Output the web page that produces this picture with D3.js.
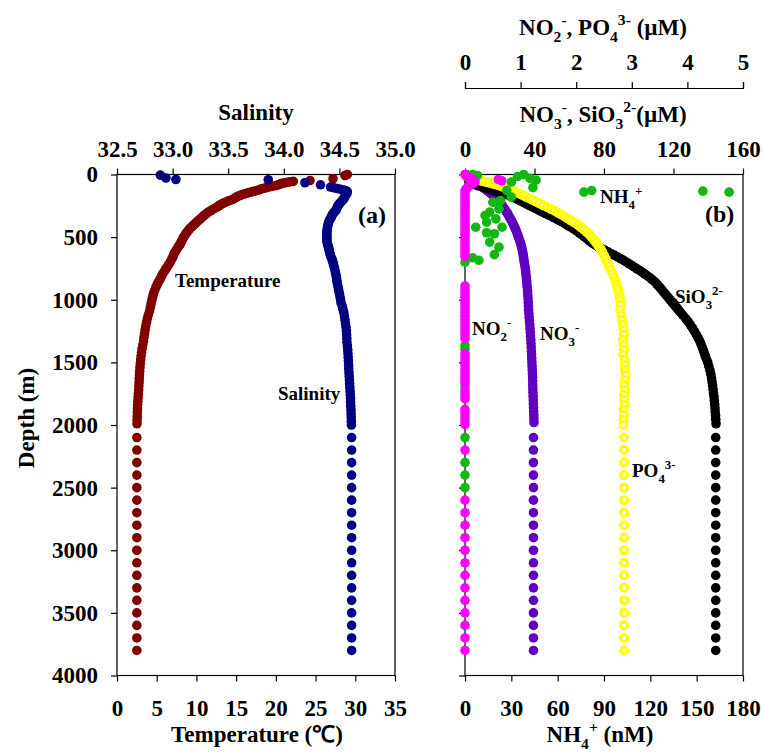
<!DOCTYPE html>
<html><head><meta charset="utf-8">
<script src="https://cdn.jsdelivr.net/npm/d3@7"></script>
<style>
body{margin:0;background:#fff}
svg{display:block}
text{font-family:'Liberation Serif','Times New Roman',serif;font-weight:bold;fill:#000}
</style></head><body>
<svg id="c" width="764" height="756"></svg>
<script>
// ---------------- DATA ----------------
const depthTicks = [0,500,1000,1500,2000,2500,3000,3500,4000];
const tempTicks = [0,5,10,15,20,25,30,35];
const salTicks = [32.5,33.0,33.5,34.0,34.5,35.0];
const nTicks = [0,40,80,120,160];
const pTicks = [0,1,2,3,4,5];
const nh4Ticks = [0,30,60,90,120,150,180];

// [depth (m), temperature (°C)]
const temperature = [[0,29.0],[8,28.7],[34,27.2],[48,24.3],[55,22.2],[59,21.8],[63,21.4],[67,21.1],[71,20.8],[75,20.6],[80,20.4],[85,20.2],[90,19.9],[95,19.5],[100,19.1],[105,18.8],[110,18.5],[115,18.2],[120,18.0],[125,17.8],[130,17.5],[135,17.2],[140,16.9],[145,16.6],[150,16.3],[155,16.1],[160,15.8],[165,15.6],[170,15.4],[175,15.2],[182,15.0],[190,14.8],[198,14.6],[205,14.3],[212,14.0],[220,13.7],[228,13.4],[236,13.2],[244,12.9],[252,12.8],[261,12.6],[270,12.3],[280,12.0],[290,11.8],[300,11.5],[310,11.3],[320,11.1],[330,10.9],[342,10.7],[354,10.5],[365,10.3],[376,10.1],[388,9.9],[400,9.7],[412,9.5],[424,9.3],[436,9.1],[448,9.0],[461,8.8],[475,8.65],[490,8.5],[505,8.35],[520,8.25],[536,8.1],[553,8.0],[568,7.8],[584,7.65],[600,7.5],[616,7.35],[632,7.2],[648,7.1],[664,7.0],[680,6.85],[700,6.7],[720,6.5],[740,6.3],[760,6.1],[780,5.9],[800,5.7],[820,5.55],[840,5.4],[860,5.2],[880,5.05],[900,4.9],[925,4.75],[950,4.6],[975,4.5],[1000,4.4],[1030,4.3],[1060,4.2],[1090,4.1],[1120,3.95],[1150,3.82],[1180,3.72],[1210,3.62],[1240,3.54],[1270,3.47],[1300,3.4],[1330,3.34],[1360,3.25],[1390,3.16],[1420,3.09],[1450,3.03],[1480,2.98],[1510,2.93],[1540,2.89],[1570,2.86],[1600,2.83],[1630,2.8],[1660,2.78],[1690,2.75],[1720,2.73],[1750,2.69],[1780,2.66],[1810,2.63],[1840,2.6],[1870,2.58],[1900,2.56],[1930,2.55],[1960,2.53],[1990,2.52],
[2100,2.5],[2200,2.5],[2300,2.5],[2400,2.5],[2500,2.5],[2600,2.5],[2700,2.5],[2800,2.5],[2900,2.5],[3000,2.5],[3100,2.5],[3200,2.5],[3300,2.5],[3400,2.5],[3500,2.5],[3600,2.5],[3700,2.5],[3800,2.5]];

// [depth (m), salinity]
const salinity = [[5,32.89],[28,32.94],[40,33.03],[42,33.86],[66,34.19],[82,34.33],[100,34.42],[106,34.45],[112,34.48],[118,34.51],[124,34.54],[130,34.56],[137,34.57],[145,34.57],[153,34.565],[162,34.56],[172,34.55],[183,34.545],[194,34.54],[204,34.53],[214,34.52],[224,34.51],[234,34.5],[244,34.49],[254,34.485],[264,34.48],[274,34.475],[284,34.47],[294,34.46],[304,34.45],[314,34.44],[324,34.435],[334,34.43],[344,34.425],[354,34.418],[366,34.41],[380,34.405],[395,34.4],[410,34.395],[425,34.392],[440,34.39],[455,34.388],[470,34.387],[485,34.387],[500,34.387],[515,34.388],[530,34.388],[545,34.39],[560,34.395],[575,34.4],[590,34.405],[605,34.408],[620,34.412],[635,34.416],[650,34.42],[665,34.428],[680,34.435],[695,34.44],[710,34.445],[727,34.449],[745,34.455],[765,34.46],[785,34.465],[805,34.47],[825,34.474],[845,34.477],[865,34.48],[885,34.485],[905,34.49],[926,34.494],[950,34.5],[975,34.505],[1000,34.51],[1025,34.515],[1050,34.525],[1075,34.532],[1100,34.539],[1130,34.545],[1160,34.55],[1190,34.555],[1220,34.56],[1250,34.563],[1280,34.565],[1310,34.567],[1340,34.568],[1370,34.572],[1400,34.575],[1430,34.577],[1460,34.579],[1490,34.581],[1520,34.583],[1550,34.584],[1580,34.586],[1610,34.588],[1640,34.59],[1670,34.592],[1700,34.594],[1730,34.596],[1760,34.598],[1790,34.6],[1820,34.601],[1850,34.602],[1880,34.604],[1910,34.605],[1940,34.606],[1970,34.607],[2000,34.608],
[2100,34.61],[2200,34.61],[2300,34.61],[2400,34.61],[2500,34.61],[2600,34.61],[2700,34.61],[2800,34.61],[2900,34.61],[3000,34.61],[3100,34.61],[3200,34.61],[3300,34.61],[3400,34.61],[3500,34.61],[3600,34.61],[3700,34.61],[3800,34.61]];

// [depth (m), NO3- (µM)]
const nitrate = [[0,0.5],[10,1],[20,1.5],[30,2.2],[40,3],[50,4],[60,5],[70,6],[80,7.5],[90,9],[100,10],[110,11],[120,12],[130,13],[140,14],[150,14.8],[160,15.6],[170,16.4],[180,17.2],[190,17.9],[200,18.6],[215,19.6],[230,20.5],[245,21.3],[260,22.1],[275,22.8],[290,23.5],[305,24.2],[320,24.8],[335,25.4],[350,26],[365,26.6],[380,27.2],[395,27.7],[410,28.2],[425,28.7],[440,29.2],[455,29.6],[470,30],[485,30.4],[500,30.8],[520,31.3],[540,31.8],[560,32.2],[580,32.6],[600,32.9],[620,33.2],[640,33.5],[660,33.7],[680,33.9],[700,34.1],[725,34.4],[750,34.7],[775,34.9],[800,35.1],[825,35.3],[850,35.5],[875,35.6],[900,35.8],[930,36],[960,36.1],[990,36.3],[1020,36.4],[1050,36.5],[1080,36.6],[1110,36.8],[1140,36.9],[1170,37.1],[1200,37.3],[1230,37.4],[1260,37.6],[1290,37.7],[1320,37.9],[1350,38],[1380,38.1],[1410,38.2],[1440,38.3],[1470,38.4],[1500,38.5],[1530,38.6],[1560,38.7],[1590,38.8],[1620,38.9],[1650,38.95],[1680,39],[1710,39.05],[1740,39.1],[1770,39.2],[1800,39.3],[1830,39.35],[1860,39.45],[1890,39.5],[1920,39.6],[1950,39.65],[1980,39.7],
[2100,39.4],[2200,39.4],[2300,39.4],[2400,39.4],[2500,39.4],[2600,39.4],[2700,39.4],[2800,39.4],[2900,39.4],[3000,39.4],[3100,39.4],[3200,39.4],[3300,39.4],[3400,39.4],[3500,39.4],[3600,39.4],[3700,39.4],[3800,39.4]];

// [depth (m), SiO3 2- (µM)]
const silicate = [[0,0.5],[10,1],[20,1.5],[30,1.8],[40,2.2],[50,2.6],[60,3],[70,3.8],[80,5],[90,7.5],[100,10],[108,12],[116,14],[124,15.5],[132,16.8],[140,18.5],[150,21],[160,23.5],[170,25.9],[180,27.5],[190,29],[200,30.5],[212,32.1],[224,33.8],[237,35.5],[248,37.1],[259,38.7],[270,40.3],[281,41.9],[292,43.4],[303,45],[314,46.6],[325,48.2],[335,49.8],[347,51.4],[358,53],[370,54.7],[383,56.3],[396,57.9],[410,59.5],[423,61.1],[436,62.7],[450,64.3],[465,65.7],[480,67.1],[495,68.5],[510,69.9],[527,71.4],[543,72.8],[556,74.2],[568,75.6],[580,77],[593,78.8],[606,80.6],[620,82.5],[633,84.3],[646,86.1],[660,88],[673,89.7],[686,91.3],[700,93],[713,94.5],[726,96],[740,97.5],[753,99],[766,100.5],[780,102],[793,103.3],[806,104.6],[820,106],[833,107.2],[846,108.3],[860,109.5],[873,110.3],[886,111.1],[900,112],[916,113],[933,114],[950,115],[966,116],[983,117],[1000,118],[1016,119],[1033,120],[1050,121],[1066,122],[1083,123],[1100,124],[1125,125.5],[1150,127],[1175,128.4],[1200,129.7],[1225,130.9],[1250,132],[1275,133],[1300,134],[1325,134.9],[1350,135.7],[1378,136.5],[1405,137.2],[1430,137.8],[1455,138.4],[1480,139.1],[1500,139.7],[1530,140.3],[1565,141],[1595,141.5],[1625,141.9],[1655,142.2],[1685,142.5],[1715,142.8],[1745,143],[1775,143.3],[1805,143.5],[1835,143.7],[1865,143.9],[1895,144],[1925,144.2],[1955,144.3],[1990,144.5],
[2100,144.3],[2200,144.3],[2300,144.3],[2400,144.3],[2500,144.3],[2600,144.3],[2700,144.3],[2800,144.3],[2900,144.3],[3000,144.3],[3100,144.3],[3200,144.3],[3300,144.3],[3400,144.3],[3500,144.3],[3600,144.3],[3700,144.3],[3800,144.3]];

// [depth (m), PO4 3- (µM)]
const phosphate = [[0,0],[8,0.02],[20,0.05],[35,0.12],[45,0.22],[52,0.3],[58,0.36],[64,0.42],[70,0.47],[76,0.52],[82,0.57],[88,0.61],[95,0.66],[102,0.71],[110,0.76],[118,0.79],[126,0.84],[135,0.89],[145,0.94],[155,0.99],[166,1.04],[177,1.09],[190,1.15],[203,1.21],[216,1.27],[230,1.33],[245,1.4],[260,1.47],[275,1.54],[290,1.61],[305,1.67],[320,1.73],[336,1.79],[352,1.85],[368,1.91],[385,1.97],[402,2.03],[420,2.08],[440,2.14],[460,2.19],[480,2.24],[500,2.28],[522,2.32],[545,2.36],[570,2.4],[595,2.44],[620,2.47],[645,2.5],[670,2.53],[700,2.56],[730,2.59],[760,2.62],[790,2.65],[820,2.68],[850,2.71],[880,2.73],[910,2.75],[940,2.76],[970,2.78],[1000,2.79],[1040,2.8],[1080,2.79],[1120,2.81],[1160,2.83],[1200,2.84],[1240,2.85],[1280,2.86],[1320,2.84],[1360,2.85],[1400,2.86],[1440,2.85],[1480,2.87],[1520,2.88],[1560,2.87],[1600,2.89],[1640,2.88],[1680,2.87],[1720,2.88],[1760,2.86],[1800,2.86],[1840,2.87],[1880,2.85],[1920,2.86],[1960,2.85],[2000,2.85],
[2100,2.86],[2200,2.86],[2300,2.86],[2400,2.86],[2500,2.86],[2600,2.86],[2700,2.86],[2800,2.86],[2900,2.86],[3000,2.86],[3100,2.86],[3200,2.86],[3300,2.86],[3400,2.86],[3500,2.86],[3600,2.86],[3700,2.86],[3800,2.86]];

// [depth (m), NO2- (µM)]
const nitrite = [[0,0],[10,0.02],[20,0.05],[30,0.1],[40,0.6],[50,0.66],[45,0.14],[60,0.18],[72,0.14],[85,0.1],[100,0.05],[115,0.02],[130,0],[155,0],[180,0],[205,0],[230,0],[255,0],[280,0],[305,0],[330,0],[355,0],[380,0],[405,0],[430,0],[455,0],[480,0],[505,0],[530,0],[555,0],[580,0],[605,0],[630,0],[655,0],
[890,0],[920,0],[950,0],[980,0],[1010,0],[1040,0],[1070,0],[1100,0],[1130,0],[1160,0],[1190,0],[1220,0],[1250,0],[1280,0],[1310,0],[1430,0],[1460,0],[1490,0],[1520,0],[1550,0],[1580,0],[1610,0],[1640,0],[1670,0],[1730,0],[1760,0],[1790,0],[1875,0],[1905,0],[1935,0],[1965,0],[1995,0],
[2200,0],[2600,0],[2700,0],[2800,0],[2900,0],[3000,0],[3100,0],[3200,0],[3300,0],[3400,0],[3500,0],[3600,0],[3700,0],[3800,0]];

// [depth (m), NH4+ (nM)]
const ammonium = [[0,5],[8,8],[0,38],[16,34],[30,42],[45,46],[60,30],[105,44],[128,27],[181,30],[208,23],[222,18],[275,22],[300,16],[327,13],[354,20],[381,14],[421,7],[421,24],[465,14],[473,19],[540,16],[580,22],[640,19],[665,5],[685,9],[700,0],[128,82],[141,77],[133,154],[141,171],[1365,0],[1395,0],[1700,0],[2100,0],[2300,0],[2400,0],[2500,0]];

// ---------------- DRAWING ----------------
const svg = d3.select('#c');
const y = d3.scaleLinear().domain([0,4000]).range([174.5,675.5]);
const xT = d3.scaleLinear().domain([0,35]).range([117,395]);
const xS = d3.scaleLinear().domain([32.5,35]).range([117,395]);
const xN = d3.scaleLinear().domain([0,160]).range([465,743]);
const xP = d3.scaleLinear().domain([0,5]).range([465,743]);
const xH = d3.scaleLinear().domain([0,180]).range([465,743]);
const FS = 23;

function rich(g, x, yy, parts, size, anchor, transform){
  const t = g.append('text').attr('x',x).attr('y',yy).attr('font-size',size)
    .attr('text-anchor',anchor||'start');
  if (transform) t.attr('transform',transform);
  let cur = 0;
  parts.forEach(([s,k])=>{
    const fs = k ? size*0.68 : size;
    const off = k==='sub' ? size*0.3 : k==='sup' ? -size*0.42 : 0;
    t.append('tspan').attr('dy', off-cur).attr('font-size', fs).text(s);
    cur = off;
  });
  return t;
}

function styleAxis(g, textY, dy){
  g.select('.domain').remove();
  g.selectAll('line').attr('stroke','#000').attr('stroke-width',1.2);
  g.selectAll('text').attr('font-size',FS).attr('fill','#000')
    .style('font-family',"'Liberation Serif','Times New Roman',serif").style('font-weight','bold');
  if (textY !== undefined) g.selectAll('text').attr('y',textY).attr('dy',dy||'0');
}

// frames
[[117,395],[465,743]].forEach(([a,b])=>{
  svg.append('rect').attr('x',a).attr('y',y(0)).attr('width',b-a).attr('height',y(4000)-y(0))
    .attr('fill','none').attr('stroke','#000').attr('stroke-width',1.2);
});

// panel a axes
svg.append('g').attr('transform',`translate(117,0)`)
  .call(d3.axisLeft(y).tickValues(depthTicks).tickSize(6).tickPadding(13).tickFormat(d3.format('d')))
  .call(g=>styleAxis(g));
svg.append('g').attr('transform',`translate(0,${y(4000)})`)
  .call(d3.axisBottom(xT).tickValues(tempTicks).tickSize(6).tickFormat(d3.format('d')))
  .call(g=>styleAxis(g,40.5));
svg.append('g').attr('transform',`translate(0,${y(0)})`)
  .call(d3.axisTop(xS).tickValues(salTicks).tickSize(6).tickFormat(d3.format('.1f')))
  .call(g=>styleAxis(g,-17.5));

// panel b axes
svg.append('g').attr('transform',`translate(465,0)`)
  .call(d3.axisLeft(y).tickValues(depthTicks).tickSize(6).tickFormat(''))
  .call(g=>styleAxis(g));
svg.append('g').attr('transform',`translate(0,${y(4000)})`)
  .call(d3.axisBottom(xH).tickValues(nh4Ticks).tickSize(6).tickFormat(d3.format('d')))
  .call(g=>styleAxis(g,40.5));
svg.append('g').attr('transform',`translate(0,${y(0)})`)
  .call(d3.axisTop(xN).tickValues(nTicks).tickSize(6).tickFormat(d3.format('d')))
  .call(g=>styleAxis(g,-17.5));
svg.append('g').attr('transform',`translate(0,88)`)
  .call(d3.axisTop(xP).tickValues(pTicks).tickSize(6).tickFormat(d3.format('d')))
  .call(g=>{ g.select('.domain').attr('stroke','#000').attr('stroke-width',1.2); g.selectAll('line').attr('stroke','#000').attr('stroke-width',1.2);
    g.selectAll('text').attr('font-size',FS).attr('fill','#000').style('font-family',"'Liberation Serif','Times New Roman',serif").style('font-weight','bold').attr('y',-18).attr('dy','0'); });

// points
const R = 4.8;
function dots(data, xs, color){
  svg.append('g').selectAll('circle').data(data).join('circle')
    .attr('cx',d=>xs(d[1])).attr('cy',d=>y(d[0])).attr('r',R).attr('fill',color);
}
dots(temperature, xT, '#800000');
dots(salinity, xS, '#000080');
dots(nitrate, xN, '#6000c0');
dots(silicate, xN, '#000000');
svg.append('g').selectAll('circle').data(phosphate).join('circle')
  .attr('cx',d=>xP(d[1])).attr('cy',d=>y(d[0])).attr('r',3.5)
  .attr('fill','#fff').attr('stroke','#ffff00').attr('stroke-width',3);
dots(ammonium, xH, '#12b812');
dots(nitrite, xP, '#ff00ff');

// titles
svg.append('text').attr('x',256).attr('y',120).attr('text-anchor','middle').attr('font-size',FS).text('Salinity');
svg.append('text').attr('x',257).attr('y',742).attr('text-anchor','middle').attr('font-size',FS).text('Temperature (\u2103)');
svg.append('text').attr('transform','translate(34,418) rotate(-90)').attr('text-anchor','middle').attr('font-size',FS).text('Depth (m)');
rich(svg, 603, 35, [['NO',''],['2','sub'],['-','sup'],[', PO',''],['4','sub'],['3-','sup'],[' (\u00b5M)','']], FS, 'middle');
rich(svg, 603, 122, [['NO',''],['3','sub'],['-','sup'],[', SiO',''],['3','sub'],['2-','sup'],['(\u00b5M)','']], FS, 'middle');
rich(svg, 600, 742, [['NH',''],['4','sub'],['+','sup'],[' (nM)','']], FS, 'middle');

// in-plot labels
svg.append('text').attr('x',175).attr('y',287).attr('font-size',19).text('Temperature');
svg.append('text').attr('x',278).attr('y',400).attr('font-size',19).text('Salinity');
svg.append('text').attr('x',358).attr('y',223).attr('font-size',24).text('(a)');
svg.append('text').attr('x',705).attr('y',222).attr('font-size',24).text('(b)');
rich(svg, 600, 203, [['NH',''],['4','sub'],['+','sup']], 19);
rich(svg, 675, 303, [['SiO',''],['3','sub'],['2-','sup']], 19);
rich(svg, 472, 335, [['NO',''],['2','sub'],['-','sup']], 19);
rich(svg, 540, 340, [['NO',''],['3','sub'],['-','sup']], 19);
rich(svg, 632, 477, [['PO',''],['4','sub'],['3-','sup']], 19);
</script>
</body></html>
